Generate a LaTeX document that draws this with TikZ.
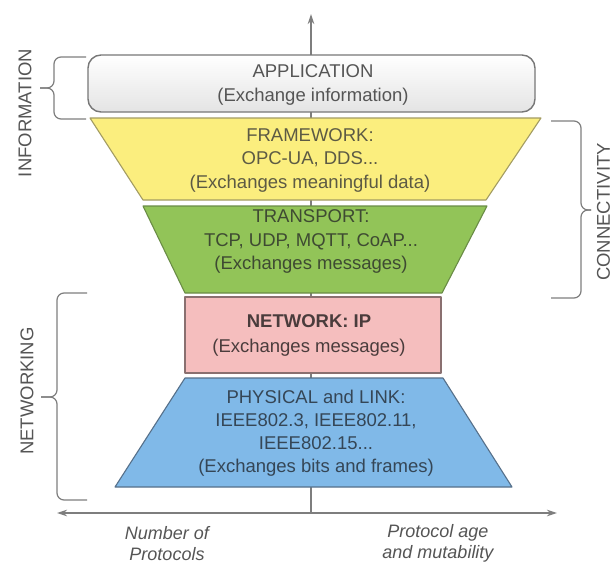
\documentclass[tikz,border=0pt]{standalone}
\usepackage{fontspec}
\setmainfont{Liberation Sans}
\usetikzlibrary{arrows.meta}

\definecolor{linegray}{HTML}{7E7E7E}
\definecolor{textgray}{HTML}{555555}
\definecolor{appfill}{HTML}{E4E4E4}
\definecolor{appedge}{HTML}{777777}
\definecolor{fwfill}{HTML}{FBEE7E}
\definecolor{fwedge}{HTML}{A39C62}
\definecolor{fwtext}{HTML}{5C5A44}
\definecolor{trfill}{HTML}{92C458}
\definecolor{tredge}{HTML}{6A8C46}
\definecolor{trtext}{HTML}{3E4A32}
\definecolor{nwfill}{HTML}{F5BEBE}
\definecolor{nwedge}{HTML}{8A7070}
\definecolor{nwtext}{HTML}{4A3C3C}
\definecolor{phfill}{HTML}{80B9E8}
\definecolor{phedge}{HTML}{56708A}
\definecolor{phtext}{HTML}{354656}

\begin{document}
\begin{tikzpicture}[x=1pt,y=-1pt,
  layertext/.style={inner sep=0pt, align=center, text=textgray,
    font=\fontsize{18.5}{23.5}\selectfont},
  sidelabel/.style={inner sep=0pt, text=textgray, font=\fontsize{18.5}{22}\selectfont},
  axislabel/.style={inner sep=0pt, align=center, text=textgray,
    font=\fontsize{18}{21.5}\selectfont\itshape},
  bracepath/.style={draw=linegray, line width=1.2pt, rounded corners=7pt},
  axisline/.style={draw=linegray, line width=1.3pt},
  tip/.style={-{Stealth[length=10pt,width=6.5pt]}},
  layeredge/.style={line width=1.1pt, line join=round}
]
\useasboundingbox (0,0) rectangle (614,565);
\fill[white] (0,0) rectangle (614,565);

% axes
\coordinate (topTip) at (311,14);
\coordinate (axisMid) at (311,513);
\coordinate (axisL) at (57,513);
\coordinate (axisR) at (557,513);
\draw[axisline, tip] (axisMid) -- (topTip);
\draw[axisline, {Stealth[length=10pt,width=6.5pt]}-{Stealth[length=10pt,width=6.5pt]}] (axisL) -- (axisR);

% application layer
\node[draw=appedge, line width=1.4pt, rounded corners=13pt,
      top color=white, bottom color=appfill,
      minimum width=447pt, minimum height=57pt, inner sep=0pt] (app) at (311.5,83.5) {};
\node[layertext, text=textgray, font=\fontsize{18.5}{24}\selectfont] (appText) at (313,85)
  {APPLICATION\\(Exchange information)};

% framework layer
\filldraw[layeredge, fill=fwfill, draw=fwedge]
  (90,118) -- (541,118) -- (486,200) -- (143,200) -- cycle;
\node[layertext, text=fwtext] (fwText) at (310,160)
  {FRAMEWORK:\\OPC-UA, DDS...\\(Exchanges meaningful data)};

% transport layer
\filldraw[layeredge, fill=trfill, draw=tredge]
  (143,206) -- (487,206) -- (442,293) -- (185,293) -- cycle;
\node[layertext, text=trtext] (trText) at (311,241.5)
  {TRANSPORT:\\TCP, UDP, MQTT, CoAP...\\(Exchanges messages)};

% network layer
\filldraw[layeredge, fill=nwfill, draw=nwedge] (185,297) rectangle (441,373);
\node[layertext, text=nwtext, font=\fontsize{18.5}{25}\selectfont] (nwText) at (309,335.5)
  {\textbf{NETWORK: IP}\\(Exchanges messages)};

% physical and link layer
\filldraw[layeredge, fill=phfill, draw=phedge]
  (185,378) -- (443,378) -- (512,487) -- (115,487) -- cycle;
\node[layertext, text=phtext, font=\fontsize{18.5}{23}\selectfont] (phText) at (316,433.5)
  {PHYSICAL and LINK:\\IEEE802.3, IEEE802.11,\\IEEE802.15...\\(Exchanges bits and frames)};

% braces
\coordinate (infoTop) at (86,57);
\coordinate (infoBot) at (86,119);
\coordinate (infoTip) at (40,88);
\draw[bracepath] (infoTop) -- (54,57) -- (54,88) -- (infoTip);
\draw[bracepath] (infoTip) -- (54,88) -- (54,119) -- (infoBot);

\coordinate (netTop) at (87,293);
\coordinate (netBot) at (87,500);
\coordinate (netTip) at (41,397);
\draw[bracepath] (netTop) -- (57,293) -- (57,397) -- (netTip);
\draw[bracepath] (netTip) -- (57,397) -- (57,500) -- (netBot);

\coordinate (connTop) at (551,121);
\coordinate (connBot) at (551,298);
\coordinate (connTip) at (591,210);
\draw[bracepath] (connTop) -- (581,121) -- (581,210) -- (connTip);
\draw[bracepath] (connTip) -- (581,210) -- (581,298) -- (connBot);

% side labels
\node[sidelabel, rotate=90] (infoLabel) at (25,113) {INFORMATION};
\node[sidelabel, rotate=90] (netLabel) at (27,391) {NETWORKING};
\node[sidelabel, rotate=90] (connLabel) at (603.5,212) {CONNECTIVITY};

% axis labels
\node[axislabel] (numLabel) at (167,543.5) {Number of\\Protocols};
\node[axislabel] (ageLabel) at (438,543.5) {Protocol age\\and mutability};
\end{tikzpicture}
\end{document}
